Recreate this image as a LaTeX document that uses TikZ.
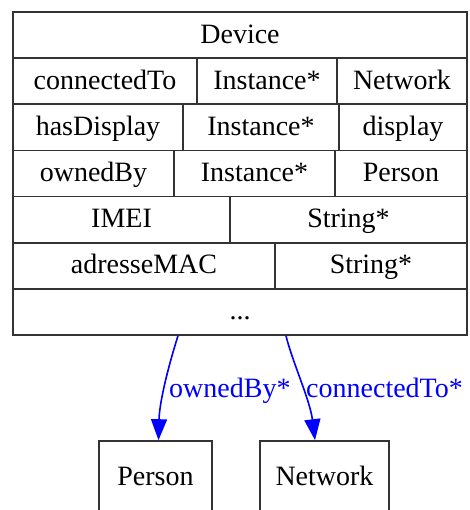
\documentclass[tikz,border=0pt]{standalone}
\usepackage{fontspec}
\setmainfont{Liberation Serif}
\usetikzlibrary{arrows.meta}
\definecolor{edgeblue}{RGB}{0,0,255}
\tikzset{
  txt/.style={font=\fontsize{28}{33}\selectfont, text height=22pt, text depth=6pt},
  cell/.style={txt, draw=black!80, line width=1.6pt, inner sep=0pt, minimum height=46.14pt, text=black},
  cls/.style={txt, draw=black!80, line width=1.6pt, inner sep=0pt, minimum height=72pt, text=black},
  edge/.style={draw=edgeblue, line width=1.6pt, -{Triangle[length=21pt,width=16pt]}},
  lbl/.style={txt, text=edgeblue, inner sep=0pt, anchor=west}
}
\begin{document}
\begin{tikzpicture}[x=1pt,y=-1pt]
\useasboundingbox (0,0) rectangle (469,510);
\clip (0,0) rectangle (469,510);
\fill[white] (0,0) rectangle (469,510);
% row 1
\node[cell, minimum width=454pt] (device) at (240,35.07) {Device};
% row 2
\node[cell, minimum width=184pt] (c21) at (105,81.21) {connectedTo};
\node[cell, minimum width=140pt] (c22) at (267,81.21) {Instance*};
\node[cell, minimum width=130pt] (c23) at (402,81.21) {Network};
% row 3
\node[cell, minimum width=170pt] (c31) at (98,127.36) {hasDisplay};
\node[cell, minimum width=156pt] (c32) at (261,127.36) {Instance*};
\node[cell, minimum width=128pt] (c33) at (403,127.36) {display};
% row 4
\node[cell, minimum width=161pt] (c41) at (93.5,173.5) {ownedBy};
\node[cell, minimum width=161pt] (c42) at (254.5,173.5) {Instance*};
\node[cell, minimum width=132pt] (c43) at (401,173.5) {Person};
% row 5
\node[cell, minimum width=217pt] (c51) at (121.5,219.64) {IMEI};
\node[cell, minimum width=237pt] (c52) at (348.5,219.64) {String*};
% row 6
\node[cell, minimum width=262pt] (c61) at (144,265.79) {adresseMAC};
\node[cell, minimum width=192pt] (c62) at (371,265.79) {String*};
% row 7
\node[cell, minimum width=454pt] (dots) at (240,311.93) {...};
% target classes
\node[cls, minimum width=113pt] (person) at (155.5,477) {Person};
\node[cls, minimum width=129pt] (network) at (324.5,477) {Network};
% edges
\draw[edge] ([xshift=-62pt]dots.south) .. controls +(-8,25) and +(1,-40) .. ([xshift=3pt]person.north);
\draw[edge] ([xshift=46pt]dots.south) .. controls +(6,25) and +(-5,-40) .. ([xshift=-9.5pt]network.north);
\node[lbl] (l1) at (169,389) {ownedBy*};
\node[lbl] (l2) at (306,389) {connectedTo*};
\end{tikzpicture}
\end{document}
